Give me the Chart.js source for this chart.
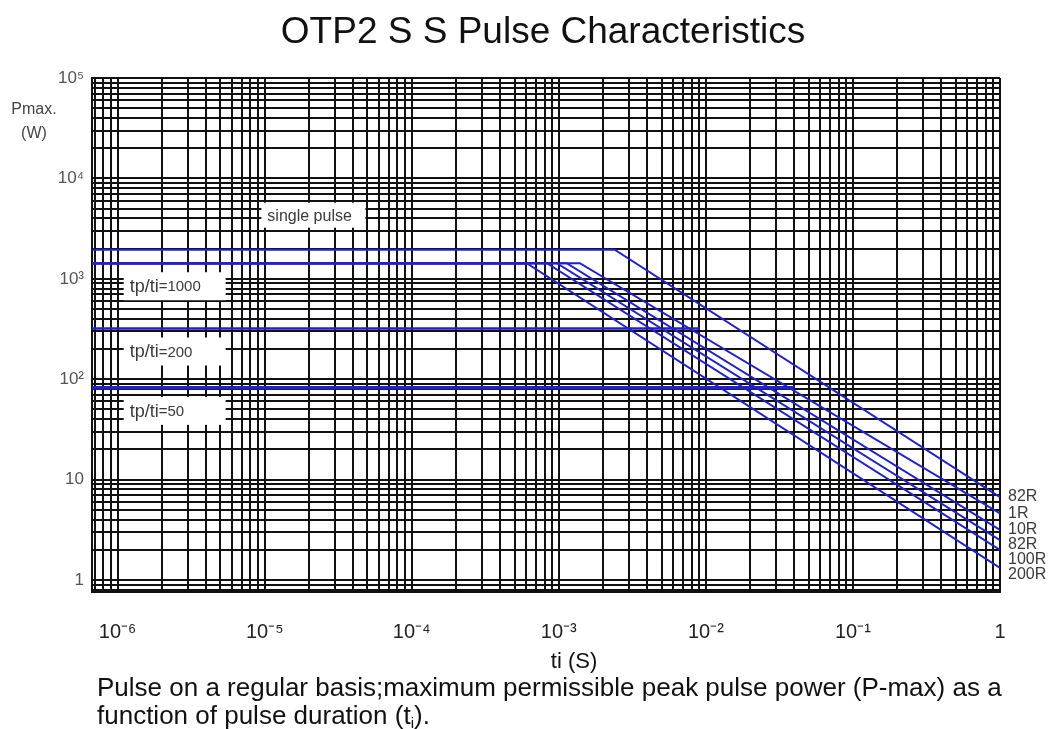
<!DOCTYPE html>
<html>
<head>
<meta charset="utf-8">
<title>OTP2 S S Pulse Characteristics</title>
<script src="https://cdn.jsdelivr.net/npm/chart.js@4.4.0/dist/chart.umd.min.js"></script>
<style>
  html, body { margin: 0; padding: 0; background: #fff; }
  #wrap { width: 1050px; height: 729px; }
</style>
</head>
<body>
<div id="wrap"><canvas id="pulseChart" width="1050" height="729"></canvas></div>
<script>
// axis limits (seconds / watts)
const tMin = 6.7e-7;
const tMax = 1;
const pMin = 0.76;
const pMax = 1e5;

// decade tick labels
const xDecades = [1e-6, 1e-5, 1e-4, 1e-3, 1e-2, 1e-1, 1];
const xTickLabels = ['10⁻⁶', '10⁻⁵', '10⁻⁴', '10⁻³', '10⁻²', '10⁻¹', '1'];
const yDecades = [1, 10, 100, 1000, 1e4, 1e5];
const yTickLabels = ['1', '10', '10²', '10³', '10⁴', '10⁵'];

// single pulse curves: flat level, knee time, power at ti = 1 s
const curveLabels = ['82R', '1R', '10R', '82R', '100R', '200R'];
const flatPower = [1950, 1430, 1430, 1430, 1430, 1430];
const kneeTime = [2.4e-3, 1.39e-3, 1.13e-3, 9.7e-4, 8.3e-4, 6.05e-4];
const endPower = [6.7, 4.6, 3.15, 2.5, 1.99, 1.32];

// duty cycle limits (horizontal)
const dutyLabels = ['tp/ti=1000', 'tp/ti=200', 'tp/ti=50'];
const dutyPower = [1430, 320, 82];
const dutyEndTime = [6.05e-4, 9.1e-3, 0.040];

const FONT = '"Liberation Sans", Arial, sans-serif';
const BLUE = '#2020cc';

function decadeTicks(lo, hi, e0, e1) {
  const out = [];
  for (let e = e0; e <= e1; e++) {
    for (let k = 1; k <= 9; k++) {
      const v = k * Math.pow(10, e);
      if (v >= lo * 0.999 && v <= hi * 1.001) out.push({ value: v });
    }
  }
  return out;
}

function decadeLabel(value, decades, labels) {
  const i = decades.findIndex(d => Math.abs(value - d) / d < 1e-6);
  return i >= 0 ? labels[i] : '';
}

const datasets = [];
curveLabels.forEach((name, i) => {
  datasets.push({
    label: name,
    data: [
      { x: tMin, y: flatPower[i] },
      { x: kneeTime[i], y: flatPower[i] },
      { x: tMax, y: endPower[i] }
    ],
    borderColor: BLUE,
    borderWidth: 2,
    pointRadius: 0,
    showLine: true,
    tension: 0
  });
});
dutyLabels.forEach((name, i) => {
  datasets.push({
    label: name,
    data: [
      { x: tMin, y: dutyPower[i] },
      { x: dutyEndTime[i], y: dutyPower[i] }
    ],
    borderColor: BLUE,
    borderWidth: i === 2 ? 3.5 : 2.5,
    pointRadius: 0,
    showLine: true
  });
});

function labelBox(ctx, x, y, w, h, parts) {
  ctx.fillStyle = '#fff';
  ctx.fillRect(x, y, w, h);
  let cx = x + 6;
  ctx.textBaseline = 'middle';
  ctx.textAlign = 'left';
  ctx.fillStyle = '#3a3a3a';
  parts.forEach(p => {
    ctx.font = p.size + 'px ' + FONT;
    ctx.fillText(p.text, cx, y + h / 2 + 1);
    cx += ctx.measureText(p.text).width;
  });
}

const decorations = {
  id: 'decorations',
  beforeDatasetsDraw(chart) {
    const { ctx, scales: { x, y } } = chart;
    ctx.save();
    const left = x.getPixelForValue(1.1e-6);
    // single pulse box sits above the top flat line
    const ySingle = y.getPixelForValue(flatPower[0]);
    labelBox(ctx, x.getPixelForValue(9.5e-6), ySingle - 47, 104, 25, [{ text: 'single pulse', size: 16 }]);
    dutyLabels.forEach((name, i) => {
      const yl = y.getPixelForValue(dutyPower[i]);
      const num = name.split('=')[1];
      labelBox(ctx, left, yl + 9, 102, 28, [
        { text: 'tp/ti', size: 18 },
        { text: '=' + num, size: 15 }
      ]);
    });
    ctx.restore();
  },
  afterDatasetsDraw(chart) {
    const { ctx, scales: { x, y } } = chart;
    ctx.save();
    ctx.font = '16px ' + FONT;
    ctx.fillStyle = '#3a3a3a';
    ctx.textAlign = 'left';
    ctx.textBaseline = 'middle';
    let prev = -Infinity;
    curveLabels.forEach((name, i) => {
      let ly = y.getPixelForValue(endPower[i]);
      if (ly < prev + 15) ly = prev + 15;
      prev = ly;
      ctx.fillText(name, x.getPixelForValue(tMax) + 8, ly);
    });
    ctx.restore();
  },
  afterDraw(chart) {
    const { ctx, chartArea } = chart;
    ctx.save();
    ctx.fillStyle = '#111';
    ctx.textAlign = 'center';
    ctx.textBaseline = 'alphabetic';
    ctx.font = '37px ' + FONT;
    ctx.fillText('OTP2 S S Pulse Characteristics', 543, 43);

    ctx.font = '16px ' + FONT;
    ctx.fillStyle = '#444';
    ctx.fillText('Pmax.', 34, 114);
    ctx.fillText('(W)', 34, 138);

    ctx.fillStyle = '#111';
    ctx.font = '22px ' + FONT;
    ctx.fillText('ti (S)', (chartArea.left + chartArea.right) / 2 + 28, 668);

    ctx.textAlign = 'left';
    ctx.font = '26px ' + FONT;
    ctx.fillText('Pulse on a regular basis;maximum permissible peak pulse power (P-max) as a', 97, 696);
    const line2 = 'function of pulse duration (t';
    ctx.fillText(line2, 97, 724);
    let cx = 97 + ctx.measureText(line2).width;
    ctx.font = '15px ' + FONT;
    ctx.fillText('i', cx, 728);
    cx += ctx.measureText('i').width;
    ctx.font = '26px ' + FONT;
    ctx.fillText(').', cx, 724);
    ctx.restore();
  }
};

new Chart(document.getElementById('pulseChart').getContext('2d'), {
  type: 'scatter',
  data: { datasets },
  options: {
    responsive: false,
    animation: false,
    devicePixelRatio: 1,
    layout: { padding: { top: 78, right: 50, left: 0, bottom: 0 } },
    plugins: { legend: { display: false }, tooltip: { enabled: false } },
    scales: {
      x: {
        type: 'logarithmic',
        min: tMin,
        max: tMax,
        afterBuildTicks: s => { s.ticks = decadeTicks(tMin, tMax, -7, 0); },
        afterFit: s => { s.height = 137; },
        border: { color: '#111', width: 2 },
        grid: { color: '#111', lineWidth: 2, drawTicks: false },
        ticks: {
          autoSkip: false,
          maxRotation: 0,
          padding: 28,
          color: '#222',
          font: { family: FONT, size: 20 },
          callback: v => decadeLabel(v, xDecades, xTickLabels)
        }
      },
      y: {
        type: 'logarithmic',
        min: pMin,
        max: pMax,
        afterBuildTicks: s => { s.ticks = decadeTicks(pMin, pMax, -1, 5); },
        afterFit: s => { s.width = 92; },
        border: { color: '#111', width: 2 },
        grid: { color: '#111', lineWidth: 2, drawTicks: false },
        ticks: {
          autoSkip: false,
          padding: 8,
          color: '#555',
          font: { family: FONT, size: 17 },
          callback: v => decadeLabel(v, yDecades, yTickLabels)
        }
      }
    }
  },
  plugins: [decorations]
});
</script>
</body>
</html>
